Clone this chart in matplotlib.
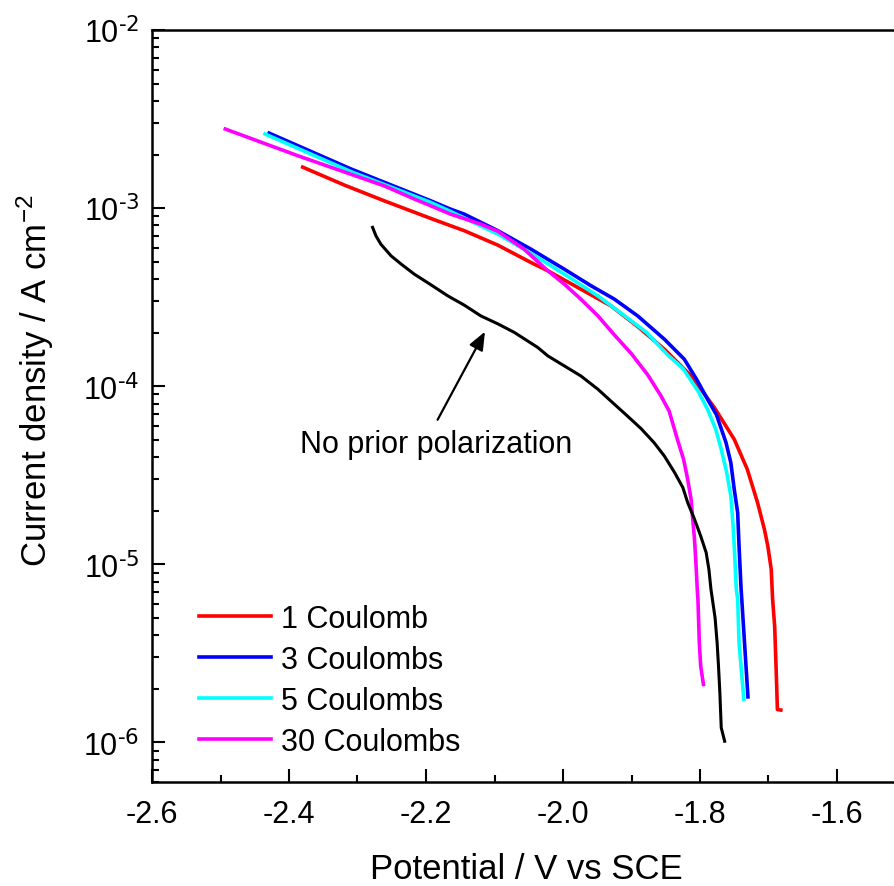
import numpy as np
import matplotlib
matplotlib.use('Agg')
import matplotlib.pyplot as plt
from matplotlib.ticker import MultipleLocator, LogLocator, NullFormatter, FuncFormatter

plt.rcParams['font.family'] = ['Liberation Sans', 'DejaVu Sans']
plt.rcParams['mathtext.default'] = 'regular'
plt.rcParams['axes.unicode_minus'] = False

# potential (V vs SCE) and log10 of current density (A cm-2)
e_1c = [-2.380, -2.319, -2.261, -2.193, -2.164, -2.144, -2.095, -2.047, -2.022, -1.974,
        -1.930, -1.891, -1.852, -1.813, -1.779, -1.750, -1.731, -1.716, -1.706, -1.701,
        -1.696, -1.694, -1.691, -1.689, -1.687, -1.682]
logi_1c = [-2.770, -2.871, -2.959, -3.058, -3.099, -3.127, -3.208, -3.305, -3.352, -3.455,
           -3.549, -3.665, -3.792, -3.942, -4.120, -4.298, -4.466, -4.653, -4.803, -4.897,
           -5.028, -5.197, -5.347, -5.571, -5.815, -5.818]

e_3c = [-2.429, -2.309, -2.193, -2.164, -2.144, -2.095, -2.047, -1.998, -1.959, -1.925,
        -1.891, -1.852, -1.823, -1.805, -1.789, -1.776, -1.762, -1.755, -1.750, -1.745,
        -1.743, -1.740, -1.739, -1.735, -1.730]
logi_3c = [-2.579, -2.781, -2.959, -3.006, -3.034, -3.127, -3.230, -3.343, -3.436, -3.511,
           -3.605, -3.736, -3.848, -3.961, -4.073, -4.160, -4.317, -4.429, -4.579, -4.710,
           -4.897, -5.140, -5.197, -5.440, -5.744]

e_5c = [-2.435, -2.309, -2.193, -2.164, -2.095, -2.047, -1.998, -1.949, -1.910, -1.878,
        -1.847, -1.825, -1.803, -1.789, -1.777, -1.769, -1.761, -1.755, -1.752, -1.750,
        -1.747, -1.745, -1.743, -1.736]
logi_5c = [-2.584, -2.796, -2.968, -3.019, -3.146, -3.253, -3.371, -3.493, -3.605, -3.698,
           -3.825, -3.900, -4.026, -4.129, -4.242, -4.354, -4.485, -4.616, -4.766, -4.897,
           -5.140, -5.197, -5.440, -5.758]

e_30c = [-2.493, -2.387, -2.261, -2.217, -2.193, -2.164, -2.120, -2.095, -2.057,
         -2.022, -1.998, -1.974, -1.949, -1.925, -1.900, -1.876, -1.857, -1.845,
         -1.833, -1.824, -1.818, -1.813, -1.811, -1.808, -1.806, -1.804, -1.803, -1.801,
         -1.799, -1.795]
logi_30c = [-2.556, -2.706, -2.875, -2.949, -2.987, -3.034, -3.090, -3.130, -3.230,
            -3.352, -3.427, -3.511, -3.605, -3.712, -3.818, -3.938, -4.054, -4.140,
            -4.298, -4.410, -4.522, -4.635, -4.729, -4.860, -4.990, -5.140, -5.197, -5.440,
            -5.571, -5.674]

e_none = [-2.278, -2.273, -2.266, -2.251, -2.236, -2.217, -2.193, -2.168, -2.144, -2.120,
          -2.095, -2.071, -2.037, -2.022, -1.998, -1.974, -1.949, -1.925, -1.906, -1.886,
          -1.867, -1.852, -1.837, -1.825, -1.818, -1.808, -1.799, -1.791, -1.787, -1.784,
          -1.778, -1.775, -1.773, -1.771, -1.769, -1.764]
logi_none = [-3.108, -3.156, -3.202, -3.268, -3.315, -3.371, -3.430, -3.493, -3.545, -3.605,
             -3.650, -3.698, -3.782, -3.830, -3.886, -3.942, -4.017, -4.101, -4.167, -4.238,
             -4.317, -4.392, -4.485, -4.569, -4.653, -4.747, -4.841, -4.934, -5.028, -5.140,
             -5.300, -5.440, -5.571, -5.721, -5.917, -5.993]

labels = ['1 Coulomb', '3 Coulombs', '5 Coulombs', '30 Coulombs']
note = 'No prior polarization'

#Configuration variables
ticksfs = 22
labelfs = 25
legendfs = 22
linew = 2.6

fig = plt.figure(figsize=(8.95, 8.87), dpi=100)
ax = fig.add_axes([152/895., 104/887., 753.5/895., 752/887.])

ax.plot(e_1c, 10**np.array(logi_1c), color='#ff0000', linewidth=linew, label=labels[0])
ax.plot(e_3c, 10**np.array(logi_3c), color='#0000ff', linewidth=linew, label=labels[1])
ax.plot(e_5c, 10**np.array(logi_5c), color='#00ffff', linewidth=linew, label=labels[2])
ax.plot(e_30c, 10**np.array(logi_30c), color='#ff00ff', linewidth=linew, label=labels[3])
ax.plot(e_none, 10**np.array(logi_none), color='black', linewidth=2.2)

ax.set_yscale('log')
ax.set_xlim(-2.6, -1.5)
ax.set_ylim(6e-7, 1e-2)

ax.xaxis.set_major_locator(MultipleLocator(0.2))
ax.xaxis.set_minor_locator(MultipleLocator(0.1))
ax.xaxis.set_major_formatter(plt.FormatStrFormatter('%.1f'))
ax.yaxis.set_major_formatter(FuncFormatter(
    lambda v, p: '10$^{\\text{-%d}}$' % int(round(-np.log10(v)))))
ax.yaxis.set_minor_locator(LogLocator(base=10, subs=np.arange(2, 10)))
ax.yaxis.set_minor_formatter(NullFormatter())

ax.tick_params(which='both', direction='in', width=1.5, labelsize=ticksfs)
ax.tick_params(which='major', length=9.5)
ax.tick_params(which='minor', length=5)
ax.tick_params(axis='x', pad=12)
ax.tick_params(axis='y', pad=9)
for s in ax.spines.values():
    s.set_linewidth(1.8)

ax.set_xlabel('Potential / V vs SCE', fontsize=labelfs)
ax.set_ylabel('Current density / A cm$^{-2}$', fontsize=labelfs)
ax.xaxis.set_label_coords(0.497, -0.093)
ax.yaxis.set_label_coords(-0.128, 0.535)

ax.annotate('', xy=(-2.112, 2.09e-4), xytext=(-2.185, 6.28e-5),
            arrowprops=dict(arrowstyle='-|>,head_length=1.1,head_width=0.45',
                            color='black', linewidth=1.6))
ax.text(-2.185, 4.72e-5, note, fontsize=legendfs, ha='center', va='center')

ax.legend(loc='upper left', bbox_to_anchor=(0.062, 0.237), frameon=False,
          fontsize=legendfs, handlelength=2.35, handletextpad=0.35,
          labelspacing=0.36, borderpad=0, borderaxespad=0)

fig.savefig('out.png', dpi=100)
